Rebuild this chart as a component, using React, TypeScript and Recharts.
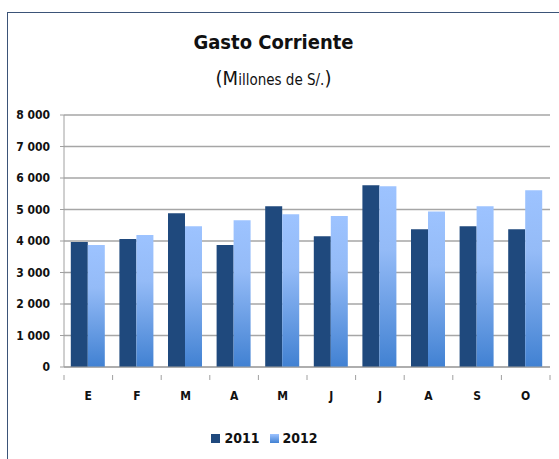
import { BarChart, Bar, XAxis, YAxis, CartesianGrid } from 'recharts'

const months = ['E', 'F', 'M', 'A', 'M', 'J', 'J', 'A', 'S', 'O']
const gasto2011 = [3970, 4060, 4880, 3870, 5100, 4150, 5770, 4370, 4470, 4370]
const gasto2012 = [3870, 4190, 4470, 4660, 4850, 4790, 5740, 4940, 5100, 5610]
const yTicks = [0, 1000, 2000, 3000, 4000, 5000, 6000, 7000, 8000]

const data = months.map((m, i) => ({
  key: i,
  mes: m,
  y2011: gasto2011[i],
  y2012: gasto2012[i]
}))

const font = '"DejaVu Sans", sans-serif'
const W = 559
const H = 459
const plotLeft = 64
const plotRight = 550

const fmt = (v: number) => (v >= 1000 ? `${Math.floor(v / 1000)} ${String(v % 1000).padStart(3, '0')}` : String(v))

// month label + tick marks at category boundaries
const MonthTick = (props: any) => {
  const { x, y, payload, index } = props
  const band = (plotRight - plotLeft) / months.length
  const last = index === months.length - 1
  return (
    <g>
      <line x1={x - band / 2} y1={y} x2={x - band / 2} y2={y + 5} stroke="#a0a0a0" />
      {last && <line x1={x + band / 2} y1={y} x2={x + band / 2} y2={y + 5} stroke="#a0a0a0" />}
      <text x={x} y={y + 25} textAnchor="middle" fontSize={12} fontWeight="bold" fill="#111"
        style={{ fontFamily: font, fontStretch: 'condensed' }}>
        {months[payload.value]}
      </text>
    </g>
  )
}

export default function App() {
  return (
    <div style={{ position: 'absolute', left: 0, top: 0, width: W, height: H, background: '#fff', overflow: 'hidden', fontFamily: font, fontStretch: 'condensed' }}>
      <div style={{ position: 'absolute', left: 7, top: 12, right: -2, bottom: -2, borderTop: '1px solid #3b5478', borderLeft: '1px solid #3b5478' }} />
      <div style={{ position: 'absolute', left: 0, width: W - 12, top: 30, textAlign: 'center', fontWeight: 'bold', fontSize: 20, color: '#111' }}>
        Gasto Corriente
      </div>
      <div style={{ position: 'absolute', left: 0, width: W - 12, top: 66, textAlign: 'center', fontSize: 15, color: '#111' }}>
        <span style={{ fontSize: 20 }}>(M</span>illones de S/.<span style={{ fontSize: 20 }}>)</span>
      </div>
      <BarChart
        width={W}
        height={H}
        data={data}
        margin={{ top: 115, right: W - plotRight, bottom: 52, left: 0 }}
        barCategoryGap="14%"
        barGap={0}
        style={{ position: 'absolute', left: 0, top: 0 }}
      >
        <defs>
          <linearGradient id="g2012" x1="0" y1="0" x2="0" y2="1">
            <stop offset="0%" stopColor="#9dc3ff" />
            <stop offset="35%" stopColor="#94bbf7" />
            <stop offset="100%" stopColor="#4181d2" />
          </linearGradient>
        </defs>
        <CartesianGrid vertical={false} stroke="#a6a6a6" strokeWidth={1.5} />
        <XAxis
          dataKey="key"
          height={40}
          stroke="#a0a0a0"
          tickLine={false}
          tick={<MonthTick />}
          interval={0}
        />
        <YAxis
          width={plotLeft}
          domain={[0, 8000]}
          ticks={yTicks}
          tickFormatter={fmt}
          stroke="#a0a0a0"
          tickSize={4}
          tickMargin={10}
          tick={{ fontSize: 12, fontWeight: 'bold', fill: '#111', style: { fontFamily: font, fontStretch: 'condensed' } }}
        />
        <Bar dataKey="y2011" fill="#1f497d" isAnimationActive={false} />
        <Bar dataKey="y2012" fill="url(#g2012)" isAnimationActive={false} />
      </BarChart>
      <div style={{ position: 'absolute', top: 430, left: 0, width: W - 30, display: 'flex', justifyContent: 'center', alignItems: 'center', fontWeight: 'bold', fontSize: 14, color: '#111' }}>
        <span style={{ width: 9, height: 9, background: '#1f497d', display: 'inline-block', marginRight: 4 }} />
        <span style={{ marginRight: 10 }}>2011</span>
        <span style={{ width: 9, height: 9, background: 'linear-gradient(#9dc3ff, #4181d2)', display: 'inline-block', marginRight: 4 }} />
        <span>2012</span>
      </div>
    </div>
  )
}
